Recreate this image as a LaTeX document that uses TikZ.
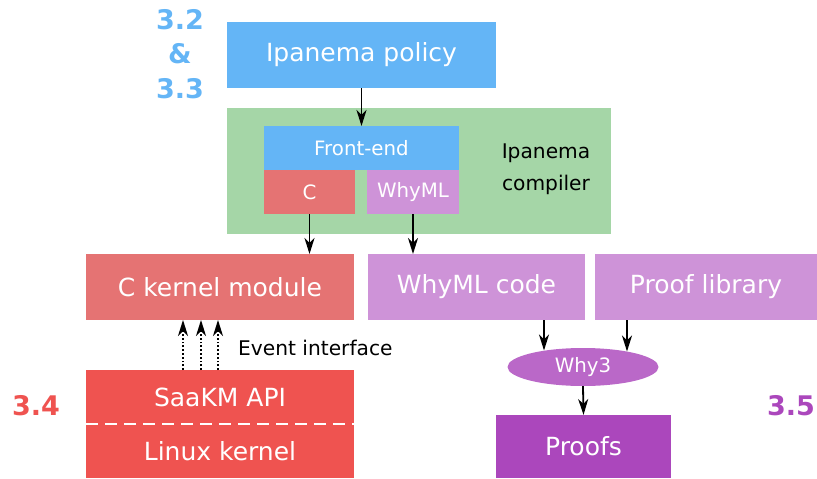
\documentclass[tikz,border=0pt]{standalone}
\usepackage{fontspec}
\setmainfont{DejaVu Sans}
\usetikzlibrary{arrows.meta,shapes.geometric,calc}
\definecolor{cblue}{HTML}{64B5F6}
\definecolor{cgreen}{HTML}{A5D6A7}
\definecolor{cred}{HTML}{E57373}
\definecolor{cdred}{HTML}{EF5350}
\definecolor{cpurp}{HTML}{CE93D8}
\definecolor{cmpurp}{HTML}{BA68C8}
\definecolor{cdpurp}{HTML}{AB47BC}
\tikzset{
  box/.style={rectangle, inner sep=0pt, outer sep=0pt, text=white, font=\fontsize{25}{30}\selectfont},
  sbox/.style={rectangle, inner sep=0pt, outer sep=0pt, text=white, font=\fontsize{19.8}{23}\selectfont},
  tip/.tip={Stealth[length=16pt,width=10pt,inset=5pt]},
  arr/.style={line width=1.8pt, -tip},
  darr/.style={line width=1.8pt, dash pattern=on 1.8pt off 2pt, -tip},
  seclabel/.style={font=\bfseries\fontsize{27}{34.5}\selectfont, align=center, inner sep=0pt},
  plain/.style={font=\fontsize{20.2}{32}\selectfont, align=center, inner sep=0pt}
}
\begin{document}
\begin{tikzpicture}[x=1pt,y=-1pt]
\useasboundingbox (0,0) rectangle (817,479);
% top
\node[box, fill=cblue, minimum width=269pt, minimum height=66pt] (policy) at (361.5,55) {Ipanema policy};
\node[seclabel, text=cblue] (l32) at (180,54) {3.2\\\&\\3.3};
% compiler
\node[rectangle, fill=cgreen, inner sep=0pt, minimum width=384pt, minimum height=126pt] (comp) at (419,171) {};
\node[sbox, fill=cblue, minimum width=195pt, minimum height=44pt] (fe) at (361.5,148) {Front-end};
\node[sbox, fill=cred, minimum width=91pt, minimum height=44pt] (cc) at (309.5,192) {C};
\node[sbox, fill=cpurp, minimum width=92pt, minimum height=44pt] (wm) at (413,192) {WhyML};
\node[plain] (comptxt) at (546,169) {Ipanema\\compiler};
% middle row
\node[box, fill=cred, minimum width=268pt, minimum height=66pt] (ckm) at (220,287) {C kernel module};
\node[box, fill=cpurp, minimum width=217pt, minimum height=66pt] (wcode) at (476.5,287) {WhyML code};
\node[box, fill=cpurp, minimum width=222pt, minimum height=66pt] (plib) at (706,287) {Proof library};
% bottom left
\node[box, fill=cdred, minimum width=268pt, minimum height=54pt] (saakm) at (220,397) {SaaKM API};
\node[box, fill=cdred, minimum width=268pt, minimum height=54pt] (linux) at (220,451) {Linux kernel};
\draw[white, line width=1.6pt, dash pattern=on 12pt off 7pt] (saakm.south west) -- (saakm.south east);
\node[plain, anchor=west] (evt) at (238,348) {Event interface};
\node[seclabel, text=cdred] (l34) at (36,406) {3.4};
% bottom right
\node[ellipse, fill=cmpurp, inner sep=0pt, minimum width=151pt, minimum height=38pt, text=white, font=\fontsize{19.8}{23}\selectfont] (why3) at (583,367) {Why3};
\node[box, fill=cdpurp, minimum width=175pt, minimum height=63pt] (proofs) at (583.5,446.5) {Proofs};
\node[seclabel, text=cdpurp] (l35) at (791,406) {3.5};
\coordinate (w3a) at (544,350.5);
\coordinate (w3b) at (627,351.5);
% arrows
\draw[arr] (policy.south) -- (fe.north);
\draw[arr] (cc.south) -- (cc.south |- ckm.north);
\draw[arr] (wm.south) -- (wm.south |- wcode.north);
\draw[arr] (wcode.south -| w3a) -- (w3a);
\draw[arr] (plib.south -| w3b) -- (w3b);
\draw[arr] (why3.south) -- (proofs.north);
\draw[darr] ([xshift=-37pt]saakm.north) -- ([xshift=-37pt]ckm.south);
\draw[darr] ([xshift=-19pt]saakm.north) -- ([xshift=-19pt]ckm.south);
\draw[darr] ([xshift=-2pt]saakm.north) -- ([xshift=-2pt]ckm.south);
\end{tikzpicture}
\end{document}
